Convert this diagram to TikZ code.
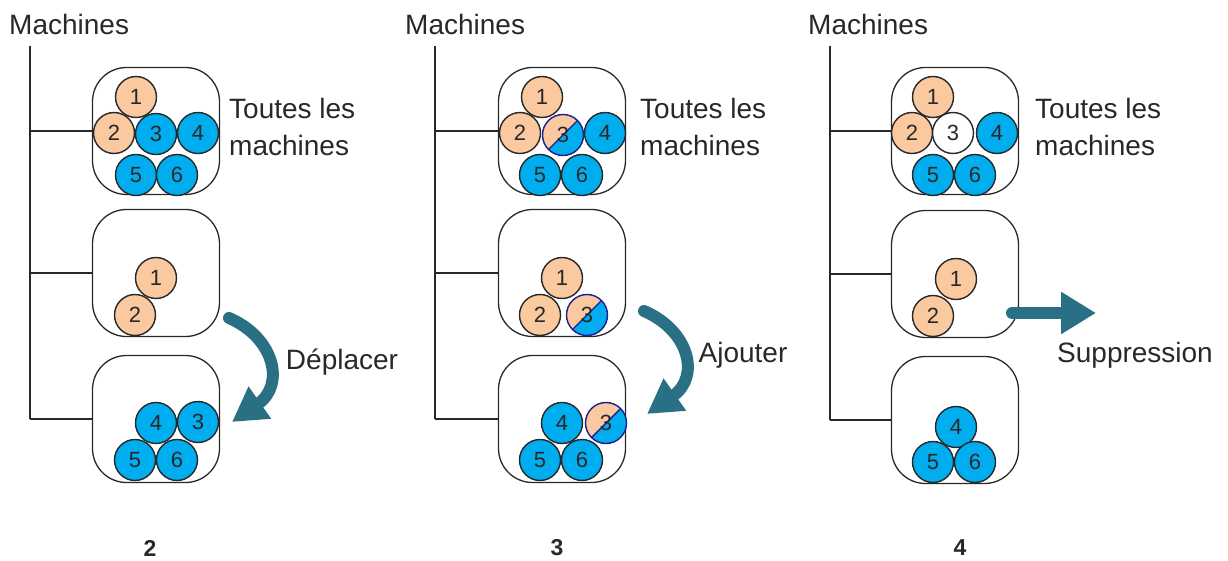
\documentclass[tikz,border=0pt]{standalone}
\usepackage{fontspec}
\setmainfont{Liberation Sans}
\usetikzlibrary{arrows.meta}
\definecolor{peach}{RGB}{250,201,160}
\definecolor{cblue}{RGB}{0,174,239}
\definecolor{arrowc}{RGB}{42,112,132}
\definecolor{navy}{RGB}{30,30,140}
\definecolor{ink}{RGB}{40,40,40}
\tikzset{
  mbox/.style={draw=ink, line width=1.3pt, rounded corners=34pt, minimum width=127pt, minimum height=127pt, inner sep=0pt},
  ball/.style={circle, draw=ink, line width=1.4pt, minimum size=41pt, inner sep=0pt, text=ink, font=\fontsize{22}{22}\selectfont},
  pball/.style={ball, fill=peach},
  bball/.style={ball, fill=cblue},
  wball/.style={ball, fill=white},
  sball/.style={ball, draw=navy, fill=peach, path picture={
      \fill[cblue] (path picture bounding box.south west) -- (path picture bounding box.north east) -- (path picture bounding box.south east) -- cycle;
      \draw[navy, line width=1.4pt] (path picture bounding box.south west) -- (path picture bounding box.north east);}},
  trunk/.style={line width=1.2pt, draw=ink},
  lbl/.style={font=\fontsize{28}{37}\selectfont, text=ink, inner sep=0pt},
  numlbl/.style={font=\fontsize{23}{23}\selectfont\bfseries, text=ink, inner sep=0pt},
  bigarrow/.style={line width=12pt, draw=arrowc, line cap=round, -{Triangle[width=37pt,length=34pt]}},
  flatarrow/.style={line width=12pt, draw=arrowc, line cap=round, -{Triangle[width=40pt,length=35pt]}}
}
\begin{document}
\begin{tikzpicture}[x=1pt,y=-1pt]
\useasboundingbox (0,0) rectangle (1228,561);

% ---------- Panel 1 ----------
\node[lbl, anchor=base west] (m1) at (9,35) {Machines};
\coordinate (t1) at (30,46);
\node[mbox] (b11) at (156,131) {};
\node[mbox] (b12) at (156,273) {};
\node[mbox] (b13) at (156,419) {};
\draw[trunk] (t1) -- (t1 |- b13.west);
\draw[trunk] (t1 |- b11.west) -- (b11.west);
\draw[trunk] (t1 |- b12.west) -- (b12.west);
\draw[trunk] (t1 |- b13.west) -- (b13.west);
\node[pball] (c11) at (136,97) {1};
\node[pball] (c12) at (114,133) {2};
\node[bball] (c13) at (156,134) {3};
\node[bball] (c14) at (198,133) {4};
\node[bball] (c15) at (136,175) {5};
\node[bball] (c16) at (177,175) {6};
\node[lbl, anchor=west, align=left] (tl1) at (229,127) {Toutes les\\machines};
\node[pball] (d11) at (156,278) {1};
\node[pball] (d12) at (135,315) {2};
\node[bball] (e14) at (156,423) {4};
\node[bball] (e13) at (198,422) {3};
\node[bball] (e15) at (135,460) {5};
\node[bball] (e16) at (177,460) {6};
\coordinate (a1s) at (229,318);
\coordinate (a1e) at (232,422);
\draw[bigarrow] (a1s) .. controls (275,338) and (285,385) .. (a1e);
\node[lbl] (w1) at (342,362) {Déplacer};
\node[numlbl] (n1) at (150,548) {2};

% ---------- Panel 2 ----------
\node[lbl, anchor=base west] (m2) at (405,35) {Machines};
\coordinate (t2) at (435,46);
\node[mbox] (b21) at (562,131) {};
\node[mbox] (b22) at (562,273) {};
\node[mbox] (b23) at (562,419) {};
\draw[trunk] (t2) -- (t2 |- b23.west);
\draw[trunk] (t2 |- b21.west) -- (b21.west);
\draw[trunk] (t2 |- b22.west) -- (b22.west);
\draw[trunk] (t2 |- b23.west) -- (b23.west);
\node[pball] (c21) at (542,97) {1};
\node[pball] (c22) at (520,133) {2};
\node[sball] (c23) at (563,135) {3};
\node[bball] (c24) at (605,133) {4};
\node[bball] (c25) at (540,175) {5};
\node[bball] (c26) at (582,175) {6};
\node[lbl, anchor=west, align=left] (tl2) at (640,127) {Toutes les\\machines};
\node[pball] (d21) at (562,278) {1};
\node[pball] (d22) at (540,315) {2};
\node[sball] (d23) at (587,315) {3};
\node[bball] (e24) at (562,423) {4};
\node[sball] (e23) at (606,423) {3};
\node[bball] (e25) at (540,460) {5};
\node[bball] (e26) at (582,460) {6};
\coordinate (a2s) at (644,311);
\coordinate (a2e) at (647,414);
\draw[bigarrow] (a2s) .. controls (690,331) and (700,377) .. (a2e);
\node[lbl] (w2) at (743,355) {Ajouter};
\node[numlbl] (n2) at (557,548) {3};

% ---------- Panel 3 ----------
\node[lbl, anchor=base west] (m3) at (808,35) {Machines};
\coordinate (t3) at (830,46);
\node[mbox] (b31) at (955,131) {};
\node[mbox] (b32) at (955,274) {};
\node[mbox] (b33) at (955,420) {};
\draw[trunk] (t3) -- (t3 |- b33.west);
\draw[trunk] (t3 |- b31.west) -- (b31.west);
\draw[trunk] (t3 |- b32.west) -- (b32.west);
\draw[trunk] (t3 |- b33.west) -- (b33.west);
\node[pball] (c31) at (933,97) {1};
\node[pball] (c32) at (912,133) {2};
\node[wball] (c33) at (953,133) {3};
\node[bball] (c34) at (997,133) {4};
\node[bball] (c35) at (933,175) {5};
\node[bball] (c36) at (975,175) {6};
\node[lbl, anchor=west, align=left] (tl3) at (1035,127) {Toutes les\\machines};
\node[pball] (d31) at (956,279) {1};
\node[pball] (d32) at (933,316) {2};
\node[bball] (e34) at (956,427) {4};
\node[bball] (e35) at (933,462) {5};
\node[bball] (e36) at (975,462) {6};
\coordinate (a3s) at (1012,313);
\coordinate (a3e) at (1096,313);
\draw[flatarrow] (a3s) -- (a3e);
\node[lbl] (w3) at (1135,355) {Suppression};
\node[numlbl] (n3) at (960,548) {4};
\end{tikzpicture}
\end{document}
